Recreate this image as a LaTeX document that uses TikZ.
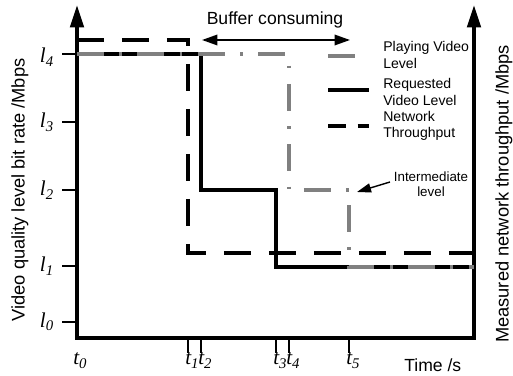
\documentclass[tikz,border=0pt]{standalone}
\usepackage{fontspec}
\setmainfont{Liberation Sans}
\newfontfamily\tnr{Liberation Serif}
\usetikzlibrary{arrows.meta}
\newcommand{\lvl}[1]{{\tnr\itshape l\textsubscript{#1}}}
\newcommand{\tm}[1]{{\tnr\itshape t\textsubscript{#1}}}
\begin{document}
\begin{tikzpicture}[x=0.025cm,y=0.025cm,
  axis/.style={line width=2.8pt,{Triangle[length=16pt,width=9.5pt]}-{Triangle[length=16pt,width=9.5pt]}},
  req/.style={line width=2.3pt},
  net/.style={line width=2.3pt,dash pattern=on 19.5pt off 12.5pt},
  play/.style={line width=2.3pt,black!50,dash pattern=on 19pt off 11pt on 2pt off 11pt},
  lbl/.style={font=\fontsize{15}{15}\selectfont,inner sep=0pt},
  leg/.style={font=\fontsize{10}{11.5}\selectfont,align=left,anchor=west,inner sep=0pt}]
\useasboundingbox (0,0) rectangle (513,375);
% axes
\draw [axis] (77,370) -- (77,37) -- (474,37) -- (474,370);
\foreach \y/\n/\s in {321/4/9,253/3/6,185/2/6,109/1/6,53/0/5}
  \draw [line width=1.5pt] (62,\y) -- (77,\y) node [lbl,anchor=base east] at (55,\y-\s) {\lvl{\n}};
\foreach \x/\n in {188/1,201/2,276/3,289/4,349/5}
  \draw [line width=1.8pt] (\x,37) -- (\x,22) node [lbl,anchor=base west] at (\x-4,10) {\tm{\n}};
\node [lbl,anchor=base west] (t0) at (73,10) {\tm{0}};
\node [font=\fontsize{12.5}{12.5}\selectfont,anchor=base west,inner sep=0pt] (time) at (404,4) {Time /s};
\node [rotate=90,font=\fontsize{13}{13}\selectfont] (ylab) at (20,185) {Video quality level bit rate /Mbps};
\node [rotate=90,font=\fontsize{13}{13}\selectfont] (ylab2) at (504,181) {Measured network throughput /Mbps};
% curves
\draw [req] (77,321) -- (201,321) -- (201,185) -- (276,185) -- (276,108) -- (474,108);
\draw [net] (77,335) -- (188,335) -- (188,122) -- (474,122);
\draw [play] (77,321) -- (289,321) -- (289,185) -- (349,185) -- (349,108) -- (474,108);
% buffer
\coordinate (bufA) at (202,335);
\coordinate (bufB) at (350,335);
\draw [line width=1.2pt,{Triangle[length=11pt,width=7.5pt]}-{Triangle[length=11pt,width=7.5pt]}] (bufA) -- (bufB);
\node [font=\fontsize{12.5}{12.5}\selectfont,anchor=base,inner sep=0pt] (buf) at (275,350) {Buffer consuming};
% legend
\draw [play] (328,319) -- (369,319);
\draw [req] (328,285) -- (369,285);
\draw [net,dash pattern=on 13pt off 8pt] (328,249) -- (369,249);
\node [leg] (lgplay) at (383,320) {Playing Video\\Level};
\node [leg] (lgreq) at (383,283) {Requested\\Video Level};
\node [leg] (lgnet) at (383,249) {Network\\Throughput};
% intermediate
\node [font=\fontsize{9.5}{11}\selectfont,align=center,inner sep=0pt] (inter) at (431,191) {Intermediate\\level};
\coordinate (interTail) at (390,193);
\coordinate (interTip) at (357,183);
\draw [line width=1pt,-{Triangle[length=10pt,width=6.5pt]}] (interTail) -- (interTip);
\end{tikzpicture}
\end{document}
